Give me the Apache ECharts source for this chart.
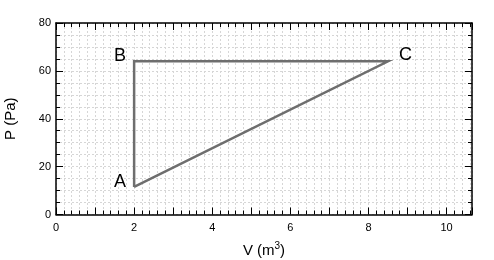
<!DOCTYPE html>
<html>
<head>
<meta charset="utf-8">
<script src="https://cdn.jsdelivr.net/npm/echarts@6/dist/echarts.min.js"></script>
<style>html,body{margin:0;padding:0;background:#fff}#c{width:494px;height:260px}</style>
</head>
<body>
<div id="c"></div>
<script>
var pointNames = ['A', 'B', 'C'];
var volumes = [2, 2, 8.5];
var pressures = [11.5, 64, 64];
var xTickLabels = [0, 2, 4, 6, 8, 10];
var yTickLabels = [0, 20, 40, 60, 80];

var labelSpecs = [
  { position: 'left', distance: 8, offset: [0, -5] },
  { position: 'left', distance: 8, offset: [0, -5] },
  { position: 'right', distance: 11, offset: [0, -6] }
];

var cycle = volumes.map(function (v, i) { return [v, pressures[i]]; });
cycle.push([volumes[0], pressures[0]]);

var labelPts = pointNames.map(function (n, i) {
  return {
    value: [volumes[i], pressures[i]],
    label: {
      show: true, formatter: n, position: labelSpecs[i].position,
      distance: labelSpecs[i].distance, offset: labelSpecs[i].offset,
      fontSize: 18, color: '#000', opacity: 1, fontFamily: 'Liberation Sans'
    }
  };
});

var grid = '#d6d6d6';
var fontF = 'Liberation Sans';
function xAxisCfg(pos, showLabels) {
  return {
    type: 'value', position: pos, min: 0, max: 10.65, interval: 1,
    name: showLabels ? 'V (m{sup|3})' : '', nameLocation: 'middle', nameGap: 27,
    nameTextStyle: { fontSize: 15, color: '#000', fontFamily: fontF,
      rich: { sup: { fontSize: 10, verticalAlign: 'top', padding: [0, 0, 8, 0], fontFamily: fontF, color: '#000' } } },
    axisLine: { show: true, onZero: false, lineStyle: { color: '#000', width: 1.5 } },
    axisTick: { show: true, inside: true, length: 7, lineStyle: { color: '#000', width: 1 } },
    minorTick: { show: true, splitNumber: 5, length: 4, lineStyle: { color: '#000', width: 1 } },
    axisLabel: { show: showLabels, margin: 8, fontSize: 11, color: '#000', fontFamily: fontF,
      formatter: function (v) { return xTickLabels.indexOf(v) >= 0 ? String(v) : ''; } },
    splitLine: { show: showLabels, lineStyle: { color: grid, type: [2, 2], width: 1 } },
    minorSplitLine: { show: showLabels, lineStyle: { color: grid, type: [2, 2], width: 1 } }
  };
}
function yAxisCfg(pos, showLabels) {
  return {
    type: 'value', position: pos, min: 0, max: 80, interval: 20,
    name: showLabels ? 'P (Pa)' : '', nameLocation: 'middle', nameGap: 38,
    nameTextStyle: { fontSize: 15, color: '#000', fontFamily: fontF },
    axisLine: { show: true, onZero: false, lineStyle: { color: '#000', width: 1.5 } },
    axisTick: { show: true, inside: true, length: 7, lineStyle: { color: '#000', width: 1 } },
    minorTick: { show: true, splitNumber: 4, length: 4, lineStyle: { color: '#000', width: 1 } },
    axisLabel: { show: showLabels, margin: 5, fontSize: 11, color: '#000', fontFamily: fontF,
      formatter: function (v) { return yTickLabels.indexOf(v) >= 0 ? String(v) : ''; } },
    splitLine: { show: showLabels, lineStyle: { color: grid, type: [2, 2], width: 1 } },
    minorSplitLine: { show: showLabels, lineStyle: { color: grid, type: [2, 2], width: 1 } }
  };
}

var chart = echarts.init(document.getElementById('c'), null, { renderer: 'canvas' });
chart.setOption({
  animation: false,
  backgroundColor: '#fff',
  grid: { left: 56, right: 22, top: 23, bottom: 45.5, containLabel: false, outerBoundsMode: 'none' },
  xAxis: [xAxisCfg('bottom', true), xAxisCfg('top', false)],
  yAxis: [yAxisCfg('left', true), yAxisCfg('right', false)],
  series: [{
    type: 'line', xAxisIndex: 0, yAxisIndex: 0,
    data: cycle, showSymbol: false, symbol: 'none',
    lineStyle: { color: '#6e6e6e', width: 2.5, join: 'miter' },
    z: 5
  }, {
    type: 'scatter', xAxisIndex: 0, yAxisIndex: 0,
    data: labelPts, symbolSize: 0, itemStyle: { color: '#000', opacity: 1 },
    z: 6
  }]
});
</script>
</body>
</html>
